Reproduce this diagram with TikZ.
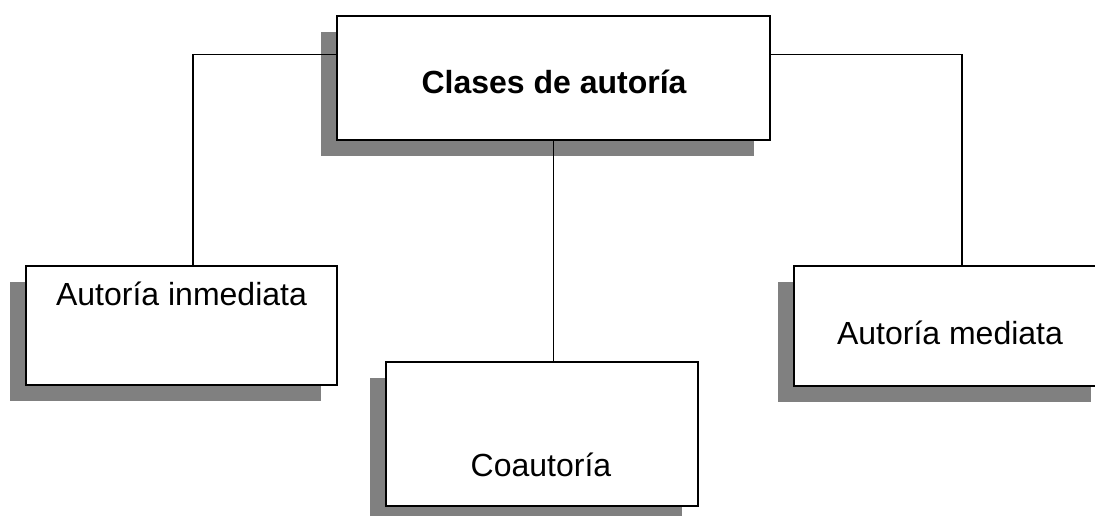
\documentclass[tikz,border=0pt]{standalone}
\usepackage{fontspec}
\setmainfont{Liberation Sans}
\usetikzlibrary{shadows}
\definecolor{shadowgray}{HTML}{808080}
\tikzset{
  box/.style={draw=black, line width=1.8pt, fill=white, rectangle, inner sep=0pt,
    drop shadow={shadow xshift=-16pt, shadow yshift=-16pt, fill=shadowgray, opacity=1}},
  boxtext/.style={anchor=base, inner sep=0pt, font=\fontsize{32}{38}\selectfont},
  conn/.style={draw=black, line width=1.2pt}
}
\begin{document}
\begin{tikzpicture}[x=1pt, y=-1pt]
\clip (0,0) rectangle (1095,515);
\fill[white] (0,0) rectangle (1095,515);
\coordinate (lj) at (193,54.7);
\coordinate (rj) at (962,54.7);
\node[box, minimum width=433pt, minimum height=124pt] (top) at (553.5,78) {};
\node[box, minimum width=311pt, minimum height=119pt] (left) at (181.5,325.5) {};
\node[box, minimum width=312pt, minimum height=144pt] (bottom) at (542,434) {};
\node[box, minimum width=313pt, minimum height=120pt] (right) at (950.5,326) {};
\draw[conn] (lj -| top.west) -- (lj) -- (lj |- left.north);
\draw[conn] (rj -| top.east) -- (rj) -- (rj |- right.north);
\draw[conn] (top.south) -- (top.south |- bottom.north);
\node[boxtext, font=\fontsize{32}{38}\selectfont\bfseries] (ttop) at (554,93.3) {Clases de autoría};
\node[boxtext] (tleft) at (181.5,305) {Autoría inmediata};
\node[boxtext] (tbottom) at (541,476.7) {Coautoría};
\node[boxtext] (tright) at (950,344) {Autoría mediata};
\end{tikzpicture}
\end{document}
